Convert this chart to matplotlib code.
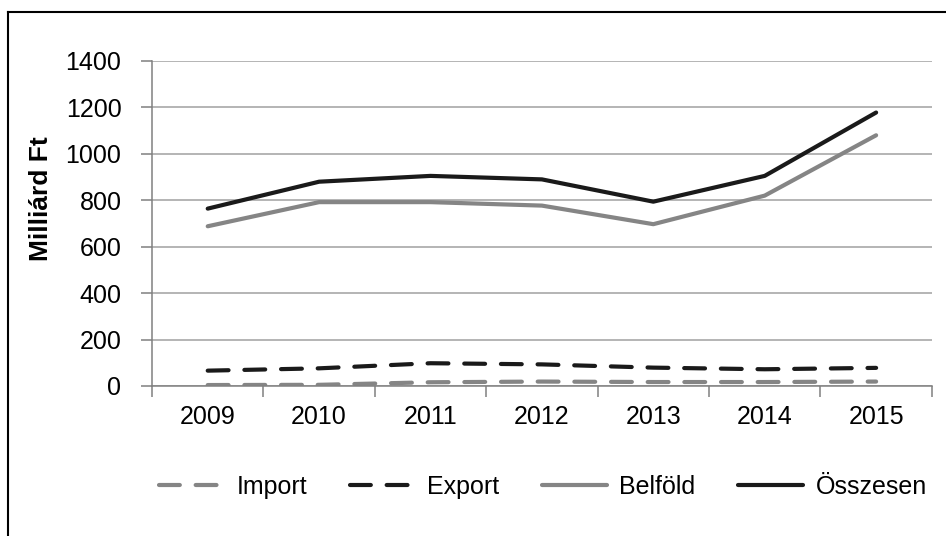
import matplotlib
matplotlib.use("Agg")
import matplotlib.pyplot as plt
from matplotlib.lines import Line2D

plt.rcParams['font.family'] = ['Liberation Sans', 'DejaVu Sans']

years = ['2009', '2010', '2011', '2012', '2013', '2014', '2015']
import_vals = [4, 5, 16, 19, 17, 17, 19]
export_vals = [66, 76, 98, 93, 79, 72, 78]
belfold = [688, 792, 792, 777, 697, 820, 1080]
osszesen = [764, 880, 905, 890, 794, 905, 1178]
yticks = [0, 200, 400, 600, 800, 1000, 1200, 1400]

black = '#1a1a1a'
grey = '#858585'

fig = plt.figure(figsize=(9.46, 5.36), dpi=100)
ax = fig.add_axes([0.1607, 0.2799, 0.8243, 0.6063])

x = list(range(len(years)))
lw = 3.0
ax.plot(x, import_vals, color=grey, lw=lw, dashes=(5, 3.8), dash_capstyle='round', label='Import')
ax.plot(x, export_vals, color=black, lw=lw, dashes=(5, 3.8), dash_capstyle='round', label='Export')
ax.plot(x, belfold, color=grey, lw=lw, solid_capstyle='round', label='Belföld')
ax.plot(x, osszesen, color=black, lw=lw, solid_capstyle='round', label='Összesen')

ax.set_xlim(-0.5, len(years) - 0.5)
ax.set_ylim(0, 1400)
ax.set_yticks(yticks)
ax.set_yticklabels([str(v) for v in yticks])
ax.yaxis.grid(True, color='#a0a0a0', lw=1.1)
ax.set_axisbelow(True)

ax.set_xticks(x)
ax.set_xticklabels(years)
ax.set_xticks([i + 0.5 for i in range(-1, len(years))], minor=True)
ax.tick_params(axis='x', which='major', length=0, pad=14, labelsize=18)
ax.tick_params(axis='x', which='minor', length=8, color='#808080', width=1.1)
ax.tick_params(axis='y', length=8, color='#808080', width=1.1, pad=14, labelsize=18)

for s in ['top', 'right']:
    ax.spines[s].set_visible(False)
ax.spines['left'].set_color('#808080')
ax.spines['bottom'].set_color('#808080')
ax.spines['left'].set_linewidth(1.1)
ax.spines['bottom'].set_linewidth(1.1)

ax.set_ylabel('Milliárd Ft', fontsize=19, fontweight='bold')
ax.yaxis.set_label_coords(-0.127, 0.578)

ax.legend(loc='center', bbox_to_anchor=(0.574, 0.0914), bbox_transform=fig.transFigure,
          ncol=4, frameon=False, fontsize=18, handlelength=2.6, columnspacing=1.7,
          handletextpad=0.5)

# outer frame (top and left edges)
fig.add_artist(Line2D([8 / 946, 1.0], [1 - 12 / 536, 1 - 12 / 536], color='black', lw=1.5,
                      transform=fig.transFigure))
fig.add_artist(Line2D([8 / 946, 8 / 946], [0.0, 1 - 12 / 536], color='black', lw=1.5,
                      transform=fig.transFigure))

fig.savefig('out.png', dpi=100)
